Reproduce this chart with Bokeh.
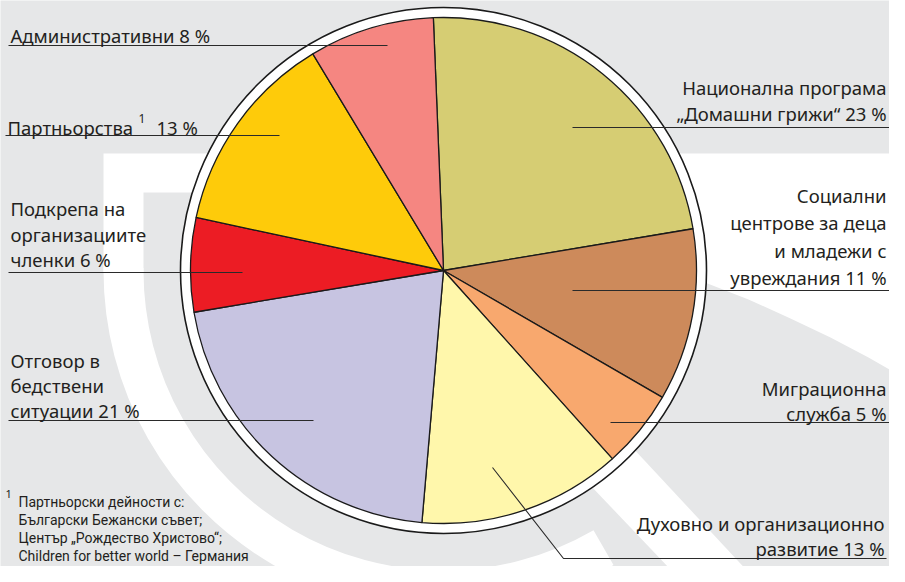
import math
from bokeh.plotting import figure
from bokeh.models import Range1d
from bokeh.core.properties import value
from bokeh.embed import file_html
from bokeh.resources import INLINE

# ---------------- data ----------------
categories = ["Национална програма „Домашни грижи“",
              "Социални центрове за деца и младежи с увреждания",
              "Миграционна служба",
              "Духовно и организационно развитие",
              "Отговор в бедствени ситуации",
              "Подкрепа на организациите членки",
              "Партньорства",
              "Административни"]
shares = [23, 11, 5, 13, 21, 6, 13, 8]
colors = ["#d6cd73", "#cd8a5b", "#f8a86e", "#fff7ab",
          "#c7c4e1", "#ec1c24", "#fecb0a", "#f58681"]
label_lines = [["Национална програма", "„Домашни грижи“"],
               ["Социални", "центрове за деца", "и младежи с", "увреждания"],
               ["Миграционна", "служба"],
               ["Духовно и организационно", "развитие"],
               ["Отговор в", "бедствени", "ситуации"],
               ["Подкрепа на", "организациите", "членки"],
               ["Партньорства"],
               ["Административни"]]
footnote_lines = ["Партньорски дейности с:",
                  "Български Бежански съвет;",
                  "Център „Рождество Христово“;",
                  "Children for better world – Германия"]

# ---------------- layout (reference pixel coords, y down) ----------------
H = 582
def Y(py):
    return H - py

CX, CY = 443, 270
R_PIE, R_RING = 253, 263
START_DEG = 92.3

TEXT = "#231f20"
FONT = value("Noto Sans")
FS = "18.5px"

p = figure(width=889, height=566, output_backend="svg", toolbar_location=None,
           x_range=Range1d(0, 889), y_range=Range1d(Y(566), Y(0)),
           x_axis_type=None, y_axis_type=None, min_border=0,
           background_fill_color="#e6e7e8", border_fill_color="#e6e7e8")
p.outline_line_color = None
p.grid.visible = False

# background logo shapes (white on grey)
white_shapes = [
    [(103, 153), (905, 153), (905, 378), (868, 357), (830, 337), (790, 318),
     (748, 299), (707, 283), (560, 250), (300, 192), (143, 192), (143, 272), (103, 272)],
    [(590, 485), (690, 590), (765, 590), (630, 445)],
]
p.patches(xs=[[x for x, _ in s] for s in white_shapes],
          ys=[[Y(y) for _, y in s] for s in white_shapes],
          fill_color="white", line_color=None)
p.annular_wedge(x=[CX], y=[Y(CY)], inner_radius=300, outer_radius=340,
                start_angle=math.radians(179.5), end_angle=math.radians(300),
                fill_color="white", line_color=None)

# ring
p.circle(x=[CX], y=[Y(CY)], radius=R_RING, fill_color="white",
         line_color="#1a1a1a", line_width=1.6)

# wedges (clockwise from just left of 12 o'clock)
starts, ends = [], []
a = START_DEG
for s in shares:
    b = a - s * 3.6
    starts.append(math.radians(b))
    ends.append(math.radians(a))
    a = b
p.wedge(x=[CX] * len(shares), y=[Y(CY)] * len(shares), radius=R_PIE,
        start_angle=starts, end_angle=ends, fill_color=colors,
        line_color="#1a1a1a", line_width=1.3)

# labels: (align, x, first baseline, line step, leader polyline)
label_layout = [
    ("right", 886, 87, 26, [(572, 127), (889, 127)]),
    ("right", 886, 195, 27.3, [(572, 290), (889, 290)]),
    ("right", 886, 388, 25, [(610, 422), (889, 422)]),
    ("right", 884, 523, 25, [(492, 467), (563, 558), (886, 558)]),
    ("left", 10, 360, 25, [(8, 420), (313, 420)]),
    ("left", 10, 208, 25.5, [(8, 272), (242, 272)]),
    ("left", 7, 127, 0, [(5, 135), (279, 135)]),
    ("left", 10, 35, 0, [(8, 45), (387, 45)]),
]

for i, (align, lx, base, step, leader) in enumerate(label_layout):
    p.line(x=[q[0] for q in leader], y=[Y(q[1]) for q in leader],
           line_color="#2a2a2a", line_width=1.1)
    lines = list(label_lines[i])
    if categories[i] == "Партньорства":
        p.text(x=[lx], y=[Y(base)], text=[lines[0]], text_font=FONT,
               text_font_size=FS, text_color=TEXT, text_align="left",
               text_baseline="alphabetic")
        p.text(x=[138], y=[Y(base - 9)], text=["1"], text_font=FONT,
               text_font_size="12px", text_color=TEXT, text_align="left",
               text_baseline="alphabetic")
        p.text(x=[156], y=[Y(base)], text=[f"{shares[i]} %"], text_font=FONT,
               text_font_size=FS, text_color=TEXT, text_align="left",
               text_baseline="alphabetic")
        continue
    lines[-1] = f"{lines[-1]} {shares[i]} %"
    p.text(x=[lx] * len(lines), y=[Y(base + k * step) for k in range(len(lines))],
           text=lines, text_font=FONT, text_font_size=FS, text_color=TEXT,
           text_align=align, text_baseline="alphabetic")

# footnote
p.text(x=[5], y=[Y(493)], text=["1"], text_font=FONT, text_font_size="11px",
       text_color=TEXT, text_align="left", text_baseline="alphabetic")
fn_base = [501, 519, 537, 555]
p.text(x=[18] * 4, y=[Y(b) for b in fn_base], text=footnote_lines,
       text_font=value("Roboto"), text_font_size="14px", text_color=TEXT,
       text_align="left", text_baseline="alphabetic")

open("out.html", "w").write(file_html(p, INLINE))
